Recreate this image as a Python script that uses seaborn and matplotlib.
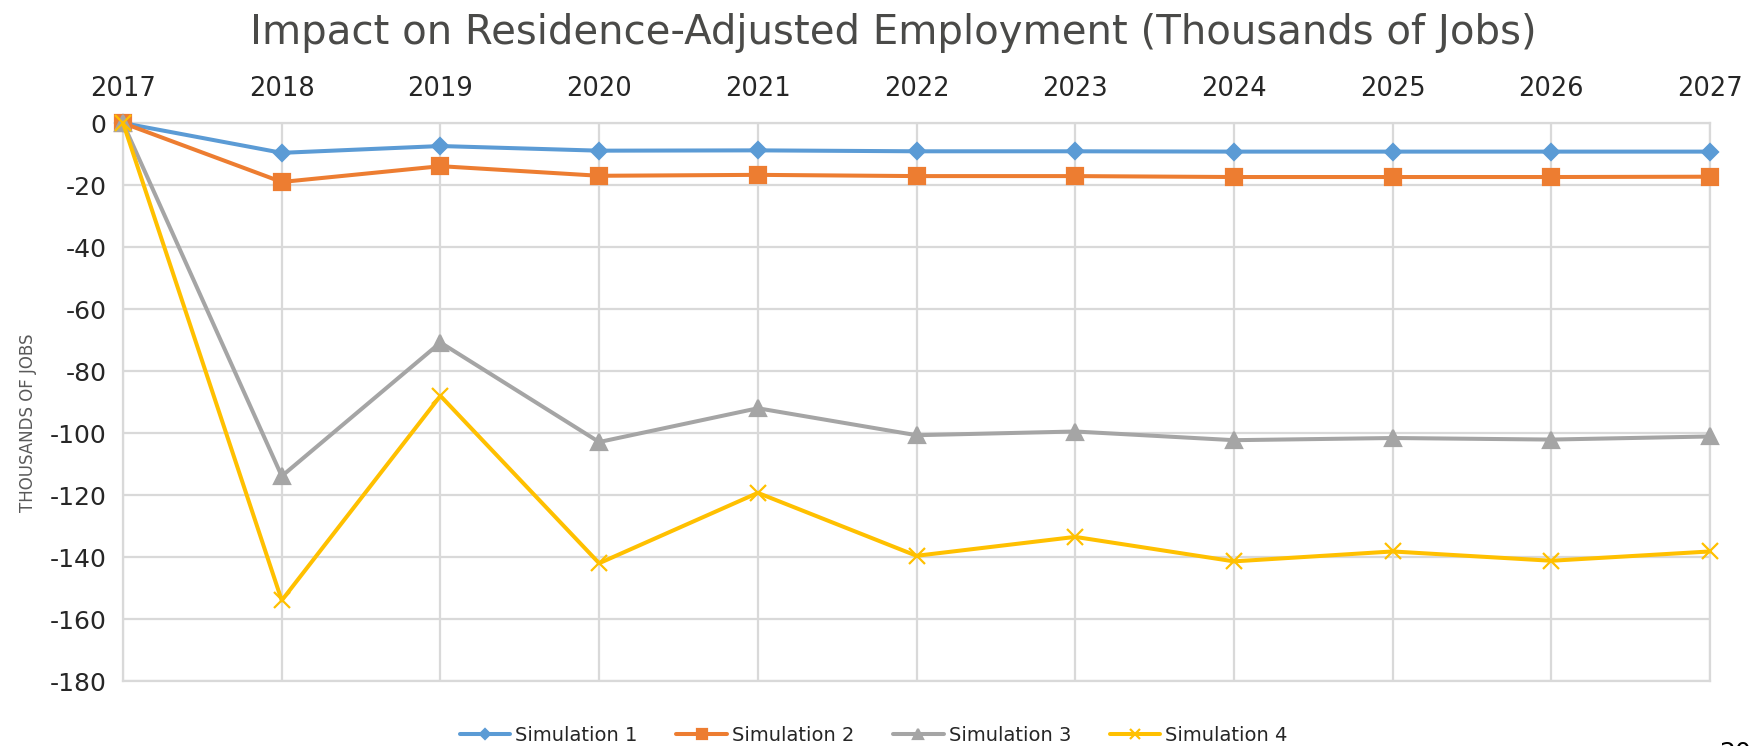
import matplotlib
matplotlib.use('Agg')
import matplotlib.pyplot as plt
import pandas as pd
import seaborn as sns

years = list(range(2017, 2028))
sim1 = [0, -9.6, -7.4, -8.9, -8.8, -9.1, -9.1, -9.2, -9.2, -9.2, -9.2]
sim2 = [0, -19.0, -13.9, -17.0, -16.7, -17.1, -17.1, -17.4, -17.4, -17.4, -17.3]
sim3 = [0, -113.9, -70.8, -102.9, -92.0, -100.7, -99.5, -102.3, -101.6, -102.1, -101.1]
sim4 = [0, -154.0, -88.0, -142.0, -119.3, -139.6, -133.5, -141.4, -138.2, -141.2, -138.2]
series_names = ['Simulation 1', 'Simulation 2', 'Simulation 3', 'Simulation 4']

sns.set_style('white')
plt.rcParams['font.family'] = ['DejaVu Sans']
plt.rcParams['axes.unicode_minus'] = False

df = pd.DataFrame({
    'Year': years * 4,
    'Jobs': sim1 + sim2 + sim3 + sim4,
    'Series': [n for n in series_names for _ in years],
})

palette = {'Simulation 1': '#5B9BD5', 'Simulation 2': '#ED7D31',
           'Simulation 3': '#A5A5A5', 'Simulation 4': '#FFC000'}
markers = {'Simulation 1': 'D', 'Simulation 2': 's',
           'Simulation 3': '^', 'Simulation 4': 'x'}
msizes = {'Simulation 1': 8.5, 'Simulation 2': 11, 'Simulation 3': 11, 'Simulation 4': 11}

fig = plt.figure(figsize=(17.58, 7.46), dpi=100)
ax = fig.add_axes([0.07, 0.0871, 0.9027, 0.7479])

for name in series_names:
    sub = df[df['Series'] == name]
    sns.lineplot(data=sub, x='Year', y='Jobs', color=palette[name], marker=markers[name],
                 markersize=msizes[name], markeredgewidth=1.6, markeredgecolor=palette[name],
                 linewidth=2.9, label=name, ax=ax, clip_on=False, zorder=3)

ax.set_xlim(2017, 2027)
ax.set_ylim(-180, 0)
ax.set_xticks(years)
ax.set_yticks(range(-180, 1, 20))
ax.xaxis.tick_top()
ax.tick_params(axis='x', length=0, pad=15, labelsize=18.5)
ax.tick_params(axis='y', length=0, pad=12, labelsize=18)
ax.grid(True, color='#D9D9D9', linewidth=1.6)
for s in ax.spines.values():
    s.set_color('#D9D9D9')
    s.set_linewidth(1.6)
ax.set_xlabel('')
ax.set_ylabel('')

ax.legend_.remove()
handles, labels = ax.get_legend_handles_labels()
fig.legend(handles, labels, loc='center', bbox_to_anchor=(0.497, 0.014), ncol=4,
           frameon=False, fontsize=14, handlelength=2.6, columnspacing=2.0,
           handletextpad=0.25, markerscale=0.6)

fig.text(0.508, 0.956, 'Impact on Residence-Adjusted Employment (Thousands of Jobs)',
         ha='center', va='center', fontsize=29, color='#4A4A48')
fig.text(0.011, 0.433, 'THOUSANDS OF JOBS', rotation=90, ha='left', va='center',
         fontsize=12, color='#595959')
fig.text(0.978, 0.0067, '20', ha='left', va='top', fontsize=18, color='black')

fig.savefig('out.png', dpi=100)
